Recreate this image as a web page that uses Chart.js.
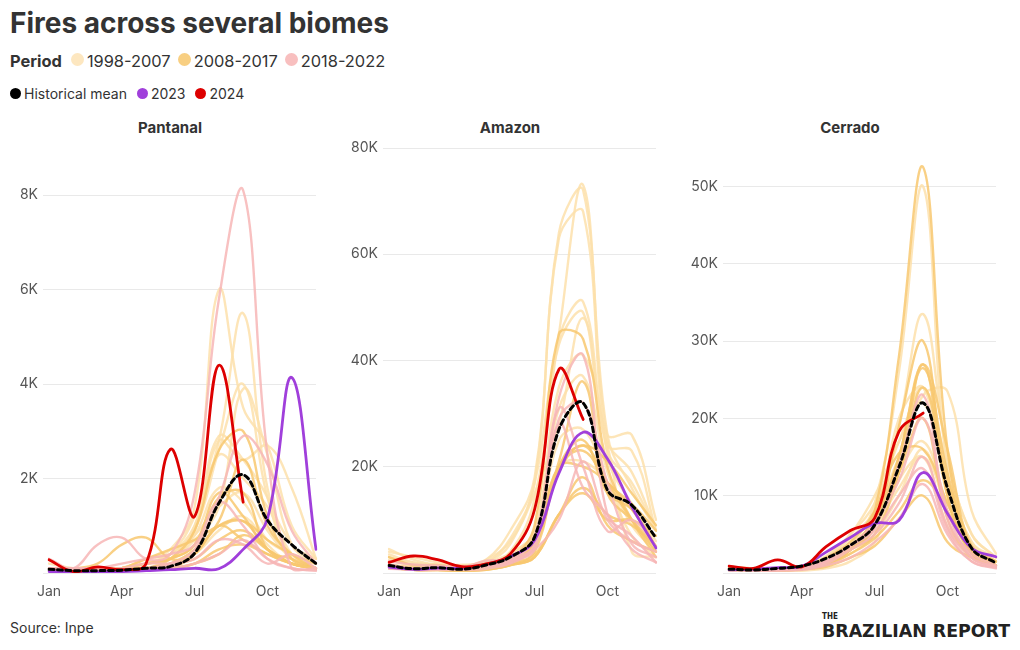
<!DOCTYPE html>
<html><head><meta charset="utf-8">
<script src="https://cdn.jsdelivr.net/npm/chart.js@4.4.1/dist/chart.umd.min.js"></script>
<style>
html,body{margin:0;padding:0;background:#fff}
body{width:1020px;height:650px;position:relative;overflow:hidden;font-family:Inter,Roboto,sans-serif;color:#333}
#title{position:absolute;left:10px;top:6px;font-size:28px;font-weight:700;color:#333}
.row{position:absolute;left:10px;display:flex;align-items:center;white-space:nowrap}
#row1{top:51px;font-size:16.4px}
#row2{top:85px;font-size:14px}
.lab{font-weight:700;margin-right:9px}
.dot{display:inline-block;border-radius:50%;margin-right:3px}
#row1 .dot{width:13px;height:13px;margin-top:-4px}
#row2 .dot{width:11px;height:11px}
.item{display:flex;align-items:center;margin-right:10px}
#row1 .item{margin-right:7px}
.ptitle{position:absolute;top:118px;width:340px;text-align:center;font-size:15px;font-weight:700;color:#333}
.panel{position:absolute;top:120px;width:340px;height:480px}
#source{position:absolute;left:10px;top:619px;font-size:14px;color:#333}
#logo{position:absolute;left:822px;top:613px;font-family:"DejaVu Sans Condensed","DejaVu Sans",sans-serif;font-stretch:condensed;font-weight:700;color:#222;line-height:1;white-space:nowrap}
#logo .the{font-size:8px;display:block;margin-bottom:1px}
#logo .main{font-size:18px;display:inline-block;transform-origin:0 0}
</style></head>
<body>
<div id="title">Fires across several biomes</div>
<div class="row" id="row1"><span class="lab">Period</span>
<span class="item"><span class="dot" style="background:#fde7c0"></span>1998-2007</span>
<span class="item"><span class="dot" style="background:#f8cf82"></span>2008-2017</span>
<span class="item"><span class="dot" style="background:#f8bfbf"></span>2018-2022</span></div>
<div class="row" id="row2">
<span class="item"><span class="dot" style="background:#000"></span>Historical mean</span>
<span class="item"><span class="dot" style="background:#a03fdb"></span>2023</span>
<span class="item"><span class="dot" style="background:#dd0000"></span>2024</span></div>
<div class="ptitle" style="left:0">Pantanal</div>
<div class="ptitle" style="left:340px">Amazon</div>
<div class="ptitle" style="left:680px">Cerrado</div>
<div class="panel" style="left:0"><canvas id="c1" width="340" height="480"></canvas></div>
<div class="panel" style="left:340px"><canvas id="c2" width="340" height="480"></canvas></div>
<div class="panel" style="left:680px"><canvas id="c3" width="340" height="480"></canvas></div>
<div id="source">Source: Inpe</div>
<div id="logo"><span class="the">THE</span><span class="main" id="logomain">BRAZILIAN REPORT</span></div>
<script>
// ---------- DATA (thousands of fire hotspots, monthly) ----------
const months = ['Jan','Feb','Mar','Apr','May','Jun','Jul','Aug','Sep','Oct','Nov','Dec'];
const shownMonthLabels = ['Jan','Apr','Jul','Oct'];
const years = [1998,1999,2000,2001,2002,2003,2004,2005,2006,2007,2008,2009,2010,2011,2012,2013,2014,2015,2016,2017,2018,2019,2020,2021,2022];
const periods = ['1998-2007','2008-2017','2018-2022'];

const pantanalYears = [
  [0.05,0.05,0.05,0.05,0.1,0.2,0.4,0.9,1.2,0.6,0.2,0.1],
  [0.1,0.05,0.05,0.05,0.2,0.3,1.0,2.9,2.4,1.6,0.3,0.1],
  [0.1,0.05,0.05,0.1,0.2,0.3,0.8,1.4,1.7,0.9,0.3,0.1],
  [0.1,0.1,0.1,0.1,0.2,0.4,1.0,2.5,2.0,1.4,0.4,0.1],
  [0.2,0.1,0.1,0.1,0.3,0.5,1.4,6.0,3.5,2.7,1.0,0.3],
  [0.1,0.05,0.1,0.1,0.2,0.3,0.7,1.4,3.9,2.5,0.6,0.2],
  [0.1,0.1,0.1,0.1,0.3,0.4,0.9,2.8,2.4,2.7,1.8,0.3],
  [0.1,0.1,0.1,0.1,0.2,0.4,1.2,2.8,5.5,1.8,0.6,0.3],
  [0.1,0.1,0.1,0.1,0.2,0.3,0.8,1.8,1.5,0.7,0.4,0.2],
  [0.1,0.05,0.1,0.1,0.2,0.4,0.9,2.6,4.0,1.6,0.3,0.2],
  [0.05,0.05,0.05,0.1,0.1,0.1,0.4,1.0,1.1,0.5,0.2,0.1],
  [0.1,0.05,0.05,0.1,0.3,0.5,0.7,1.0,1.1,0.7,0.4,0.2],
  [0.1,0.05,0.05,0.05,0.1,0.3,0.9,2.6,3.0,1.2,0.3,0.1],
  [0.05,0.05,0.05,0.1,0.2,0.3,0.6,1.6,1.7,0.5,0.3,0.1],
  [0.1,0.1,0.1,0.1,0.2,0.3,0.6,1.7,1.2,0.5,0.2,0.1],
  [0.05,0.05,0.05,0.05,0.1,0.2,0.3,0.7,0.9,0.5,0.2,0.1],
  [0.05,0.05,0.05,0.05,0.1,0.1,0.2,0.5,0.6,0.4,0.2,0.1],
  [0.05,0.05,0.05,0.1,0.1,0.1,0.2,0.4,0.8,0.5,0.2,0.1],
  [0.1,0.1,0.2,0.6,0.75,0.3,0.4,1.0,0.7,0.4,0.2,0.1],
  [0.05,0.05,0.05,0.05,0.1,0.2,0.5,1.1,2.4,1.0,0.4,0.1],
  [0.05,0.05,0.05,0.05,0.1,0.1,0.2,0.4,0.7,0.3,0.1,0.05],
  [0.05,0.05,0.05,0.05,0.1,0.2,0.5,1.6,2.9,2.3,0.9,0.2],
  [0.3,0.1,0.6,0.75,0.3,0.4,1.7,5.8,8.1,2.5,0.1,0.1],
  [0.1,0.1,0.1,0.2,0.3,0.4,0.6,1.5,1.0,0.3,0.1,0.05],
  [0.1,0.1,0.1,0.1,0.2,0.2,0.3,0.7,0.6,0.2,0.4,0.1]
];
const pantanalMean = [0.08,0.05,0.05,0.06,0.1,0.14,0.42,1.48,2.08,1.12,0.6,0.2];
const pantanal2023 = [0.03,0.02,0.02,0.03,0.05,0.07,0.1,0.09,0.5,1.15,4.14,0.5];
const pantanal2024 = [0.28,0.03,0.13,0.07,0.2,2.62,1.2,4.4,1.5];

const amazonYears = [
  [1.0,1.0,1.0,0.5,1.0,3.6,8,35,41,24,4,3],
  [1.1,1.3,0.7,0.7,1.8,3.6,5.6,25,27,17,7,3],
  [1.5,0.7,0.6,0.6,0.8,2.5,6.5,20,21,17,10,4],
  [1.6,1.1,1.0,0.7,1.5,3.5,8,31,37,19,9,4],
  [2.5,1.3,1.3,1.0,2.0,5.5,17,43,49,24,23,8],
  [4.5,2.5,1.5,1.2,2.5,6,15,28,48,26,26,10],
  [4.0,3.0,2.0,1.5,2.5,8,18,64,72,25,19,8],
  [3.0,2.0,1.5,1.5,2.0,6.5,17,63,68,22,13,6],
  [3.0,1.5,1.5,1.0,1.5,4,12,44,51,23,17,8],
  [3.5,2.0,1.5,1.0,1.5,4,14,45,73,26,16,8],
  [1.5,0.7,0.6,0.6,1.0,2,6,20,20,17,12,5],
  [1.0,0.6,0.6,0.5,0.6,1.5,3,11,15,10,10,7],
  [1.0,0.7,0.8,0.6,1.2,2.5,9,45,44,20,10,3],
  [0.9,0.6,0.5,0.4,0.7,1.5,3.5,11,18,9,6,4],
  [1.0,0.7,0.6,0.6,1.2,2.5,5,19,24,17,10,4],
  [1.0,0.6,0.6,0.5,0.6,1.5,3,11,16,11,9,5],
  [1.2,0.6,0.6,0.5,1.0,1.8,4,20,25,15,12,5],
  [1.5,1.0,0.8,0.6,1.0,2,6,20,24,21,15,9],
  [3.0,1.5,1.5,1.0,1.5,2.5,7,20,23,17,13,8],
  [1.0,0.6,0.6,0.6,1.0,2,6,21,36,15,10,5],
  [1.2,0.6,0.6,0.6,0.8,1.8,4.4,10,21,10,6,4],
  [1.6,0.9,1.2,1.1,1.3,1.9,5.3,31,20,7.9,10,5],
  [2.2,1.6,1.4,1.2,1.7,2.3,6.8,29,32,17,5.5,3],
  [1.3,0.6,0.9,1.0,1.2,2.3,4.5,28,16,11,4.5,2],
  [0.8,0.7,0.9,1.0,2.3,2.6,5.4,33,41,11,7,2]
];
const amazonMean = [1.4,0.8,1.0,0.7,1.5,3.0,6.8,27,32,15.6,12.8,6.6];
const amazon2023 = [1.1,0.7,0.9,0.9,1.6,3.1,6.2,18.8,26.5,21.5,12.5,4.7];
const amazon2024 = [2.0,3.2,2.5,1.2,1.7,3.6,12,38.3,28.9];

const cerradoYears = [
  [0.3,0.3,0.3,0.3,0.6,1.5,4,12,15,6,2,1],
  [0.5,0.4,0.4,0.5,1.3,3,6,20,24,10,3,1.5],
  [0.5,0.4,0.3,0.5,1.2,2.5,5,10,16,8,3,1.5],
  [0.5,0.5,0.5,0.6,1.5,3.5,6,13,17,9,3.5,1.5],
  [0.8,0.6,0.6,0.8,2,4,8,19,33.5,15,5,2],
  [0.8,0.6,0.6,0.8,2,4.5,8,15,23,23.5,8,2.5],
  [0.7,0.6,0.6,0.8,2.2,5,9,17,24,14,5,2],
  [0.7,0.6,0.6,0.8,2,5,10,17,22,12,4,2],
  [0.6,0.5,0.5,0.7,1.5,3,6,11,15,9,3.5,1.5],
  [0.6,0.5,0.5,0.7,1.5,3.5,9,26,50,13,4,1.5],
  [0.5,0.4,0.4,0.5,1.2,3,6,13,20,7,2,1],
  [0.5,0.4,0.4,0.5,0.8,2,3.5,7,10,4,2,1],
  [0.4,0.4,0.4,0.5,1.2,3,8,28,52.5,16,3,1],
  [0.4,0.4,0.4,0.5,1.2,3,6,19,30,10,2.5,1],
  [0.5,0.4,0.4,0.5,1.5,3.5,7,15,27,16,3,1],
  [0.4,0.3,0.3,0.5,1,2.5,4.5,8,12,8,2.5,1],
  [0.5,0.4,0.4,0.5,1.5,3,6,15,26.5,13,3,1],
  [0.5,0.4,0.4,0.5,1.2,3,5,13,24,12,3.5,1.5],
  [0.7,0.5,0.5,0.8,2,4,8,15.5,16,9,3,1.5],
  [0.4,0.4,0.4,0.5,1.2,3,6.5,13,27,10,2.5,1],
  [0.4,0.3,0.3,0.4,1,2,4,7,11.5,5,1.5,0.6],
  [0.4,0.3,0.4,0.6,1.5,3.5,6,14,23,7,2.5,1],
  [0.5,0.4,0.4,0.6,1.5,3.5,6.5,12,20,8,2,0.8],
  [0.4,0.4,0.4,0.6,1.5,3.5,5.5,10,13.5,5.5,1.5,0.7],
  [0.4,0.4,0.4,0.5,1.2,3,5,9,15,6,2,0.8]
];
const cerradoMean = [0.5,0.4,0.6,0.9,1.9,3.6,6.2,13.7,22,11,3.2,1.3];
const cerrado2023 = [0.4,0.5,0.7,0.9,2.7,4.6,6.4,6.8,13.0,7.7,3.2,2.1];
const cerrado2024 = [0.9,0.6,1.7,0.8,3.4,5.5,7.1,18.3,20.7];

// ---------- STYLE ----------
const periodColors = ['rgba(253,224,172,0.85)','rgba(248,200,112,0.85)','rgba(247,182,182,0.85)'];
function periodIndex(y){ return y<=2007?0:(y<=2017?1:2); }

function buildDatasets(yearSeries, mean, y2023, y2024){
  const ds = [];
  ds.push({label:'Historical mean', data:mean, borderColor:'#000', borderWidth:3, borderDash:[5,3.5], order:0});
  ds.push({label:'2024', data:y2024, borderColor:'#dd0000', borderWidth:2.8, order:1});
  ds.push({label:'2023', data:y2023, borderColor:'#a03fdb', borderWidth:2.8, order:2});
  yearSeries.forEach((vals,i)=>{
    ds.push({label:String(years[i]), data:vals, borderColor:periodColors[periodIndex(years[i])], borderWidth:2.4, order:100-i});
  });
  return ds;
}

function makeChart(id, yearSeries, mean, y2023, y2024, maxV, step){
  new Chart(document.getElementById(id), {
    type:'line',
    data:{ labels:months, datasets:buildDatasets(yearSeries, mean, y2023, y2024) },
    options:{
      responsive:false, animation:false, events:[],
      layout:{padding:{top:28,right:24,left:0,bottom:0}},
      elements:{ point:{radius:0}, line:{tension:0.4, borderCapStyle:'round', borderJoinStyle:'round'} },
      plugins:{ legend:{display:false}, tooltip:{enabled:false}, title:{display:false} },
      scales:{
        x:{
          grid:{display:false}, border:{display:false},
          ticks:{autoSkip:false, maxRotation:0, padding:2, color:'#555', font:{family:'Inter', size:14},
            callback:(v,i)=> shownMonthLabels.includes(months[i]) ? months[i] : ''},
          afterFit:(s)=>{ s.height = 27; }
        },
        y:{
          min:0, max:maxV,
          afterBuildTicks:(s)=>{ s.ticks = s.ticks.filter(t=> Math.abs(t.value/step - Math.round(t.value/step))<1e-6); },
          afterFit:(s)=>{ s.width = 49; },
          grid:{color:'#e9e9e9', lineWidth:1, tickLength:6, drawTicks:true},
          border:{display:false},
          ticks:{stepSize:step, padding:5, color:'#555', font:{family:'Inter', size:14},
            callback:(v)=> v===0 ? '' : v+'K'}
        }
      }
    }
  });
}

makeChart('c1', pantanalYears, pantanalMean, pantanal2023, pantanal2024, 9, 2);
makeChart('c2', amazonYears, amazonMean, amazon2023, amazon2024, 80, 20);
makeChart('c3', cerradoYears, cerradoMean, cerrado2023, cerrado2024, 55, 10);

// fit logo text to its width in the reference
const lm = document.getElementById('logomain');
const w = lm.getBoundingClientRect().width;
if (w > 0) lm.style.transform = 'scaleX(' + (188 / w) + ')';
</script>
</body></html>
